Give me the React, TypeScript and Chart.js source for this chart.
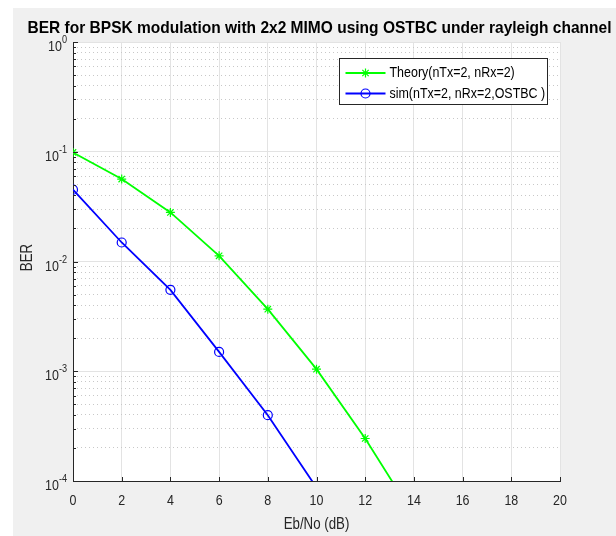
import React, { useEffect, useRef } from 'react';
import { Chart, registerables } from 'chart.js';

Chart.register(...registerables);

// ---- data ----
const titleText = 'BER for BPSK modulation with 2x2 MIMO using OSTBC under rayleigh channel';
const xTitle = 'Eb/No (dB)';
const yTitle = 'BER';
const seriesLabels = ['Theory(nTx=2, nRx=2)', 'sim(nTx=2, nRx=2,OSTBC )'];

const theoryEbNo = [0, 2, 4, 6, 8, 10, 12, 14];
const theoryBer = [0.0986, 0.0564, 0.028, 0.01127, 0.00368, 0.001045, 0.000244, 0.000048];

const simEbNo = [0, 2, 4, 6, 8, 10];
const simBer = [0.0451, 0.0149, 0.00552, 0.0015, 0.000398, 0.000087];

const xTicks = [0, 2, 4, 6, 8, 10, 12, 14, 16, 18, 20];
const yDecades = [-4, -3, -2, -1, 0];
const yMinorMultipliers = [2, 3, 4, 5, 6, 7, 8, 9];

// ---- styles ----
const FONT = '"Liberation Sans", Arial, sans-serif';
const CONDENSE = 0.83;
const AXIS = '#262626';
const GRID = '#e3e3e3';
const MINOR = '#c8c8c8';
const GREEN = '#00ff00';
const BLUE = '#0000ff';

const yTickValues: number[] = [];
yDecades.forEach((d) => {
  yTickValues.push(Math.pow(10, d));
  if (d < 0) yMinorMultipliers.forEach((m) => yTickValues.push(m * Math.pow(10, d)));
});
yTickValues.sort((a, b) => a - b);

const isMajor = (v: number) => Math.abs(Math.log10(v) - Math.round(Math.log10(v))) < 1e-9;

function drawText(
  ctx: CanvasRenderingContext2D,
  text: string,
  x: number,
  y: number,
  font: string,
  color: string,
  align: CanvasTextAlign,
  sx: number = CONDENSE,
  rot: number = 0
) {
  ctx.save();
  ctx.translate(x, y);
  if (rot) ctx.rotate(rot);
  ctx.scale(sx, 1);
  ctx.font = font;
  ctx.fillStyle = color;
  ctx.textAlign = align;
  ctx.textBaseline = 'middle';
  ctx.fillText(text, 0, 0);
  ctx.restore();
}

const decorPlugin = {
  id: 'decor',
  beforeDraw(chart: any) {
    const { ctx, chartArea: a, width, height } = chart;
    ctx.save();
    ctx.fillStyle = '#ffffff';
    ctx.fillRect(0, 0, width, height);
    ctx.fillStyle = '#f0f0f0';
    ctx.fillRect(13, 8, width - 13, height - 8);
    ctx.fillStyle = '#ffffff';
    ctx.fillRect(a.left, a.top, a.right - a.left, a.bottom - a.top);
    ctx.restore();
  },
  afterDraw(chart: any) {
    const { ctx, chartArea: a } = chart;
    const xs = chart.scales.x;
    const ys = chart.scales.y;
    ctx.save();
    // inward ticks
    ctx.strokeStyle = AXIS;
    ctx.lineWidth = 1;
    ctx.beginPath();
    xs.ticks.forEach((t: any) => {
      const px = Math.round(xs.getPixelForValue(t.value)) + 0.5;
      ctx.moveTo(px, a.bottom);
      ctx.lineTo(px, a.bottom - 4);
    });
    ys.ticks.forEach((t: any) => {
      const py = Math.round(ys.getPixelForValue(t.value)) + 0.5;
      const len = isMajor(t.value) ? 5 : 3;
      ctx.moveTo(a.left, py);
      ctx.lineTo(a.left + len, py);
    });
    ctx.stroke();

    // x tick labels
    xs.ticks.forEach((t: any) => {
      const px = xs.getPixelForValue(t.value);
      drawText(ctx, String(t.value), px, a.bottom + 20, `15px ${FONT}`, AXIS, 'center');
    });

    // y tick labels 10^n
    ys.ticks.forEach((t: any) => {
      if (!isMajor(t.value)) return;
      const e = Math.round(Math.log10(t.value));
      const py = ys.getPixelForValue(t.value);
      const expText = e === 0 ? '0' : '-' + Math.abs(e);
      ctx.font = `11px ${FONT}`;
      const expW = ctx.measureText(expText).width * CONDENSE;
      const right = a.left - 6;
      drawText(ctx, expText, right - expW, py - 2, `11px ${FONT}`, AXIS, 'left');
      drawText(ctx, '10', right - expW, py + 5, `15px ${FONT}`, AXIS, 'right');
    });

    // axis titles
    drawText(ctx, xTitle, (a.left + a.right) / 2, 525, `16px ${FONT}`, AXIS, 'center');
    drawText(ctx, yTitle, 28, (a.top + a.bottom) / 2 - 4, `16px ${FONT}`, AXIS, 'center', CONDENSE, -Math.PI / 2);

    // title
    ctx.font = `bold 17px ${FONT}`;
    const tw = ctx.measureText(titleText).width;
    const tsx = Math.min(1, 584 / tw);
    drawText(ctx, titleText, (a.left + a.right) / 2 + 3, 28, `bold 17px ${FONT}`, '#000000', 'center', tsx);

    // legend
    const boxW = 208;
    const boxH = 46;
    const bx = Math.round(a.right - 13 - boxW) + 0.5;
    const by = Math.round(a.top + 16) + 0.5;
    ctx.fillStyle = '#ffffff';
    ctx.fillRect(bx, by, boxW, boxH);
    ctx.strokeStyle = AXIS;
    ctx.lineWidth = 1;
    ctx.strokeRect(bx, by, boxW, boxH);
    chart.data.datasets.forEach((ds: any, i: number) => {
      const ly = by + 14.5 + i * 20.5;
      const x0 = bx + 6;
      const x1 = bx + 46;
      const cx = (x0 + x1) / 2;
      ctx.strokeStyle = ds.borderColor;
      ctx.lineWidth = 1.8;
      ctx.beginPath();
      ctx.moveTo(x0, ly);
      ctx.lineTo(x1, ly);
      ctx.stroke();
      ctx.lineWidth = 1.2;
      ctx.beginPath();
      const r = 4.5;
      if (ds.pointStyle === 'star') {
        for (let k = 0; k < 4; k++) {
          const ang = (k * Math.PI) / 4;
          ctx.moveTo(cx - r * Math.cos(ang), ly - r * Math.sin(ang));
          ctx.lineTo(cx + r * Math.cos(ang), ly + r * Math.sin(ang));
        }
      } else {
        ctx.arc(cx, ly, r, 0, Math.PI * 2);
      }
      ctx.stroke();
      drawText(ctx, ds.label, bx + 50, ly, `15px ${FONT}`, '#000000', 'left');
    });
    ctx.restore();
  },
};

export default function App() {
  const ref = useRef<HTMLCanvasElement | null>(null);
  useEffect(() => {
    if (!ref.current) return;
    const chart = new Chart(ref.current, {
      type: 'line',
      data: {
        datasets: [
          {
            label: seriesLabels[0],
            data: theoryEbNo.map((x, i) => ({ x, y: theoryBer[i] })),
            borderColor: GREEN,
            backgroundColor: GREEN,
            borderWidth: 1.8,
            pointStyle: 'star',
            pointRadius: 4.5,
            pointBorderWidth: 1.2,
            pointBorderColor: GREEN,
            tension: 0,
          },
          {
            label: seriesLabels[1],
            data: simEbNo.map((x, i) => ({ x, y: simBer[i] })),
            borderColor: BLUE,
            backgroundColor: 'rgba(0,0,0,0)',
            borderWidth: 1.8,
            pointStyle: 'circle',
            pointRadius: 4.5,
            pointBorderWidth: 1.2,
            pointBorderColor: BLUE,
            pointBackgroundColor: 'rgba(0,0,0,0)',
            tension: 0,
          },
        ],
      },
      options: {
        animation: false,
        responsive: false,
        devicePixelRatio: 1,
        layout: { padding: { top: 42, right: 56, left: 0, bottom: 0 } },
        plugins: { legend: { display: false }, title: { display: false }, tooltip: { enabled: false } },
        scales: {
          x: {
            type: 'linear',
            min: 0,
            max: 20,
            afterBuildTicks: (s: any) => {
              s.ticks = xTicks.map((v) => ({ value: v }));
            },
            afterFit: (s: any) => {
              s.height = 55;
            },
            grid: { color: GRID, drawTicks: false, lineWidth: 1 },
            border: { color: AXIS, width: 1 },
            ticks: { display: false },
          },
          y: {
            type: 'logarithmic',
            position: 'left',
            min: 1e-4,
            max: 1,
            afterBuildTicks: (s: any) => {
              s.ticks = yTickValues.map((v) => ({ value: v }));
            },
            afterFit: (s: any) => {
              s.width = 73;
            },
            grid: {
              color: (c: any) => (c.tick && isMajor(c.tick.value) ? GRID : 'rgba(0,0,0,0)'),
              drawTicks: false,
            },
            border: { color: AXIS, width: 1 },
            ticks: { display: false },
          },
          yMinor: {
            type: 'logarithmic',
            position: 'left',
            min: 1e-4,
            max: 1,
            afterBuildTicks: (s: any) => {
              s.ticks = yTickValues.map((v) => ({ value: v }));
            },
            afterFit: (s: any) => {
              s.width = 0;
            },
            grid: {
              color: (c: any) => (c.tick && !isMajor(c.tick.value) ? MINOR : 'rgba(0,0,0,0)'),
              drawTicks: false,
            },
            border: { display: false, dash: [1, 3] },
            ticks: { display: false },
          },
        },
      } as any,
      plugins: [decorPlugin],
    });
    return () => chart.destroy();
  }, []);
  return (
    <div style={{ position: 'fixed', left: 0, top: 0, width: 616, height: 536 }}>
      <canvas ref={ref} width={616} height={536} style={{ display: 'block', width: 616, height: 536 }} />
    </div>
  );
}
